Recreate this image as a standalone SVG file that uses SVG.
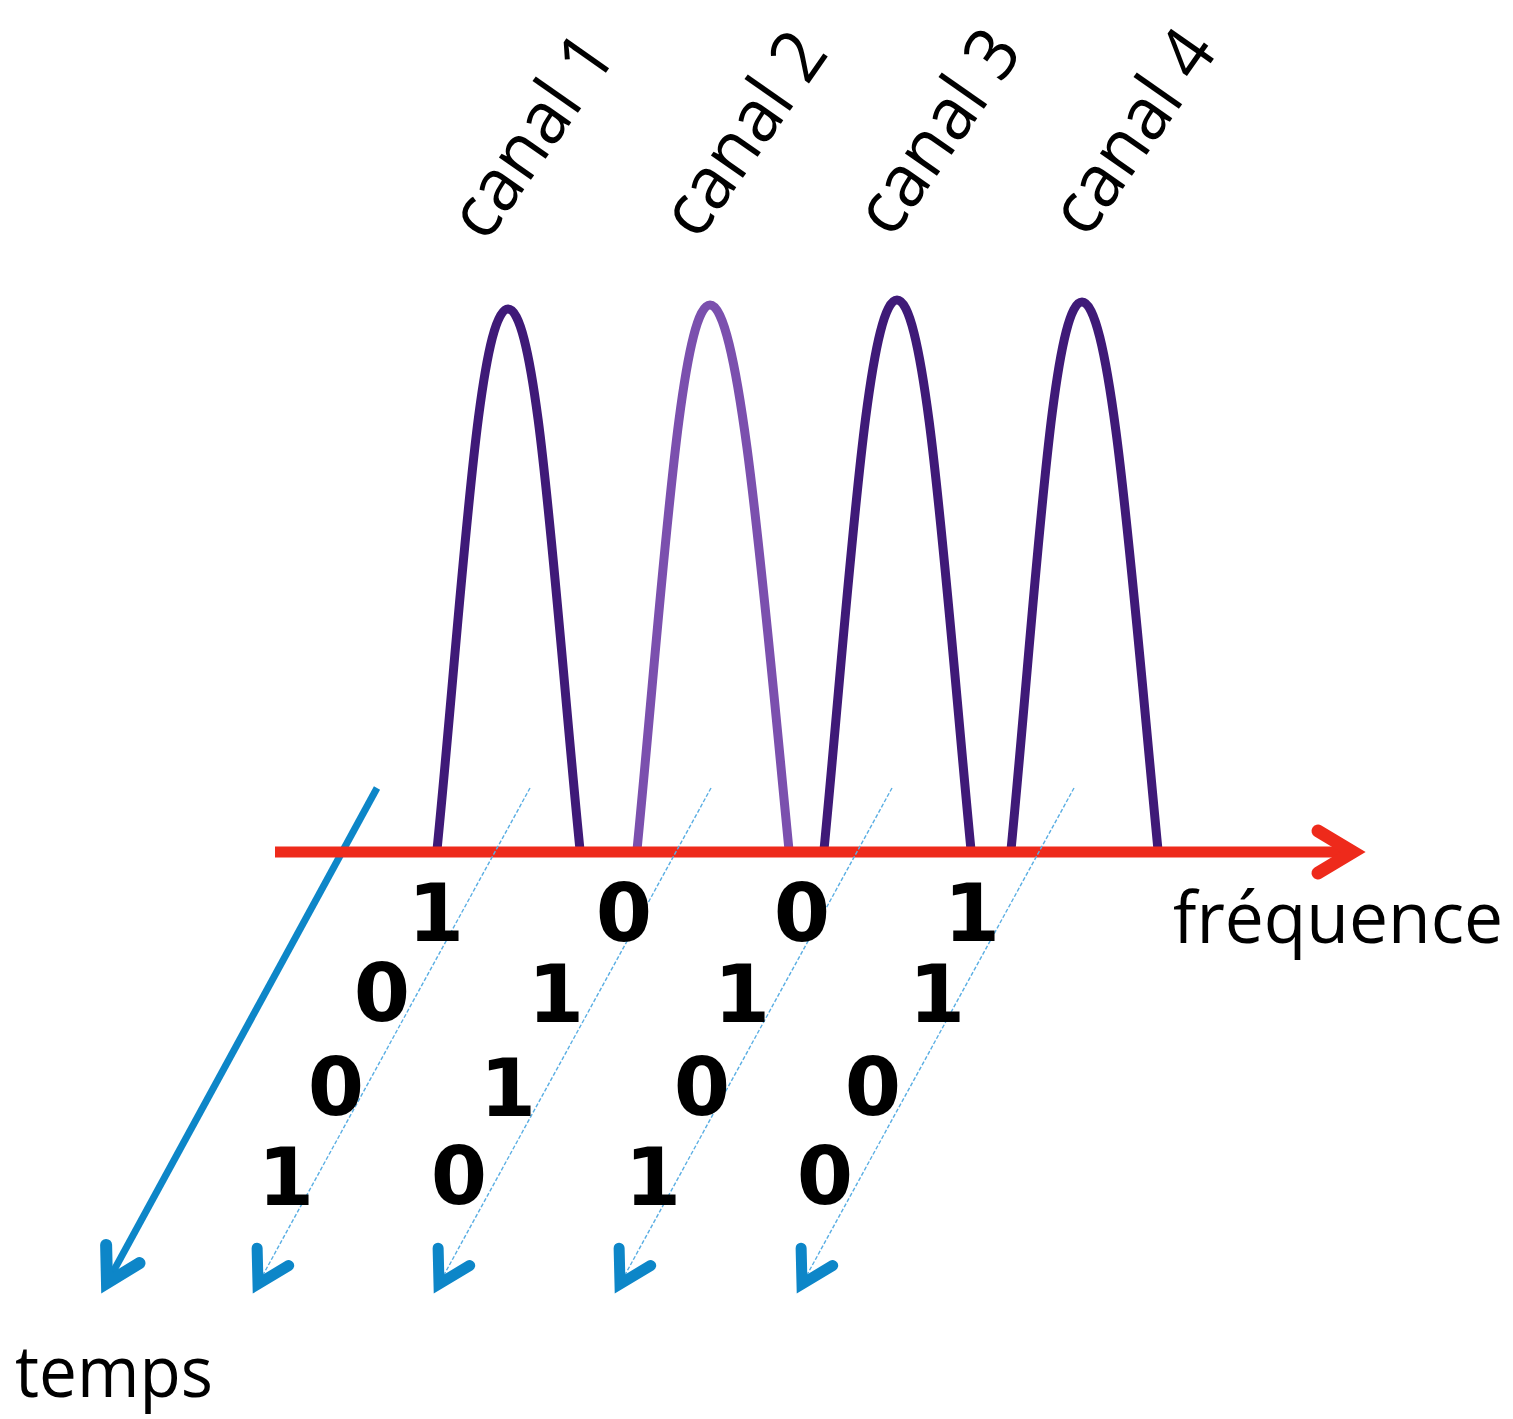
<svg xmlns="http://www.w3.org/2000/svg" width="1513" height="1419" viewBox="0 0 1513 1419">
<style>
.peak{fill:none;stroke:#3f1a78;stroke-width:9;stroke-linecap:butt}
.peak2{stroke:#7b50ae}
.lbl{font-family:"Open Sans","Liberation Sans",sans-serif;font-size:72px;fill:#000}
.rot{font-size:73px}
.bit{font-family:"DejaVu Sans","Liberation Sans",sans-serif;font-size:81px;font-weight:bold;fill:#000;text-anchor:middle}
.time{fill:none;stroke:#5aaee3;stroke-width:1.4;stroke-dasharray:4 2}
</style>
<defs>
<marker id="hs" markerUnits="userSpaceOnUse" orient="auto" refX="0" refY="0" markerWidth="100" markerHeight="100" viewBox="-50 -50 100 100" overflow="visible">
<path d="M-31,-18 L0,0 L-31,18" fill="none" stroke="#0d86c8" stroke-width="11" stroke-linecap="round" stroke-linejoin="miter" stroke-miterlimit="10"/>
</marker>
<marker id="hm" markerUnits="userSpaceOnUse" orient="auto" refX="0" refY="0" markerWidth="100" markerHeight="100" viewBox="-50 -50 100 100" overflow="visible">
<path d="M-33,-19 L0,0 L-33,19" fill="none" stroke="#0d86c8" stroke-width="12" stroke-linecap="round" stroke-linejoin="miter" stroke-miterlimit="10"/>
</marker>
<marker id="hr" markerUnits="userSpaceOnUse" orient="auto" refX="0" refY="0" markerWidth="100" markerHeight="100" viewBox="-50 -50 100 100" overflow="visible">
<path d="M-35,-21 L0,0 L-35,21" fill="none" stroke="#ee2a1b" stroke-width="13" stroke-linecap="round" stroke-linejoin="miter" stroke-miterlimit="10"/>
</marker>
</defs>
<rect width="1513" height="1419" fill="#fff"/>

<g id="canal1">
<path class="peak" d="M437,850 C462,599 478,309 508,309 C538,309 555,599 580,850"/>
<text class="lbl rot" transform="translate(486,244) rotate(-55)" textLength="230" lengthAdjust="spacingAndGlyphs">canal 1</text>
</g>
<g id="canal2">
<path class="peak peak2" d="M637,850 C662,595 680,305 710,305 C740,305 764,595 789,850"/>
<text class="lbl rot" transform="translate(698,242) rotate(-55)" textLength="230" lengthAdjust="spacingAndGlyphs">canal 2</text>
</g>
<g id="canal3">
<path class="peak" d="M824,850 C849,590 867,300 897,300 C927,300 946,590 971,850"/>
<text class="lbl rot" transform="translate(892,240) rotate(-55)" textLength="230" lengthAdjust="spacingAndGlyphs">canal 3</text>
</g>
<g id="canal4">
<path class="peak" d="M1011,850 C1036,592 1052,302 1082,302 C1112,302 1133,592 1158,850"/>
<text class="lbl rot" transform="translate(1087,240) rotate(-55)" textLength="230" lengthAdjust="spacingAndGlyphs">canal 4</text>
</g>

<g id="connectors">
<line id="axe-temps" x1="377" y1="788" x2="107" y2="1283" stroke="#0d86c8" stroke-width="7" marker-end="url(#hm)"/>
<line id="axe-freq" x1="275" y1="852" x2="1353" y2="852" stroke="#ee2a1b" stroke-width="11" marker-end="url(#hr)"/>
<line class="time" x1="530" y1="788" x2="258" y2="1284" marker-end="url(#hs)"/>
<line class="time" x1="711" y1="788" x2="439" y2="1284" marker-end="url(#hs)"/>
<line class="time" x1="892" y1="788" x2="620" y2="1284" marker-end="url(#hs)"/>
<line class="time" x1="1074" y1="788" x2="802" y2="1284" marker-end="url(#hs)"/>
</g>

<g id="bits">
<text class="bit" x="436" y="941">1</text>
<text class="bit" x="624" y="941">0</text>
<text class="bit" x="802" y="941">0</text>
<text class="bit" x="972" y="941">1</text>
<text class="bit" x="382" y="1021">0</text>
<text class="bit" x="556" y="1022">1</text>
<text class="bit" x="742" y="1022">1</text>
<text class="bit" x="937" y="1022">1</text>
<text class="bit" x="336" y="1115">0</text>
<text class="bit" x="508" y="1116">1</text>
<text class="bit" x="702" y="1115">0</text>
<text class="bit" x="873" y="1115">0</text>
<text class="bit" x="286" y="1205">1</text>
<text class="bit" x="459" y="1204">0</text>
<text class="bit" x="653" y="1205">1</text>
<text class="bit" x="825" y="1204">0</text>
</g>

<g id="frequence">
<text class="lbl" x="1173" y="943" textLength="330" lengthAdjust="spacingAndGlyphs">fréquence</text>
</g>
<g id="temps">
<text class="lbl" x="15" y="1397" textLength="198" lengthAdjust="spacingAndGlyphs">temps</text>
</g>
</svg>
